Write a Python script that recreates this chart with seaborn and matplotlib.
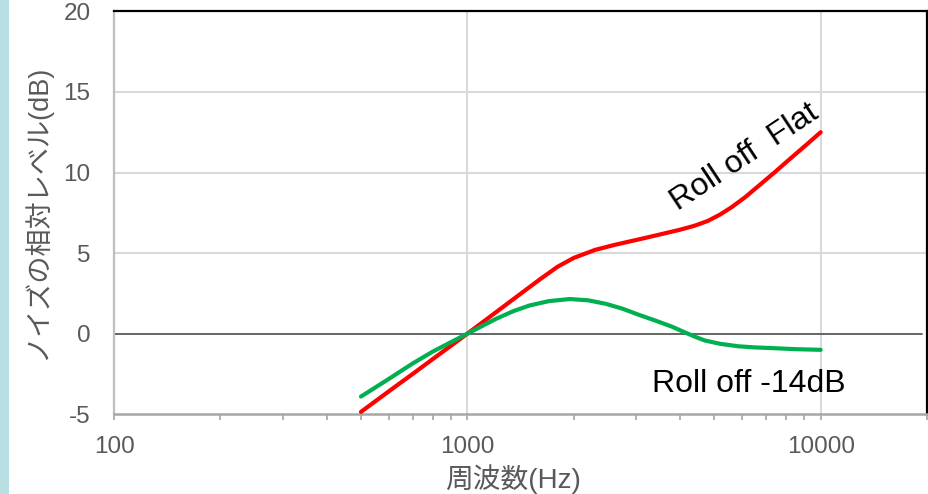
import matplotlib
matplotlib.use("Agg")
import matplotlib.pyplot as plt
from matplotlib.patches import Rectangle
from matplotlib.ticker import FixedLocator, LogLocator, NullFormatter
import numpy as np
import pandas as pd
import seaborn as sns

# Relative noise level vs frequency for two roll-off settings
freq_flat = [500, 600, 700, 800, 900, 1000, 1200, 1400, 1600, 1800, 2000, 2300,
             2600, 2850, 3200, 3500, 4000, 4400, 4800, 5200, 5600, 6100, 6700,
             7400, 8000, 8500, 9200, 10000]
level_flat = [-4.85, -3.57, -2.5, -1.56, -0.74, 0.0, 1.3, 2.4, 3.35, 4.15, 4.7, 5.2,
              5.5, 5.7, 5.95, 6.15, 6.45, 6.7, 7.0, 7.4, 7.85, 8.45, 9.2,
              10.0, 10.65, 11.15, 11.8, 12.5]

freq_14db = [500, 600, 700, 800, 900, 1000, 1200, 1350, 1500, 1700, 1950, 2200,
             2470, 2750, 3050, 3400, 3780, 4140, 4400, 4700, 5200, 5840, 6500,
             7230, 8500, 10000]
level_14db = [-3.9, -2.8, -1.85, -1.1, -0.52, 0.0, 0.9, 1.4, 1.75, 2.02, 2.15, 2.07,
              1.85, 1.55, 1.18, 0.82, 0.45, 0.07, -0.18, -0.42, -0.63, -0.78, -0.85,
              -0.89, -0.96, -1.0]

series_names = ["Roll off  Flat", "Roll off -14dB"]
series_colors = ["#ff0000", "#00b050"]

x_ticks = [100, 1000, 10000]
y_ticks = [-5, 0, 5, 10, 15, 20]
x_label = "周波数(Hz)"
y_label = "ノイズの相対レベル(dB)"

df = pd.concat([
    pd.DataFrame({"freq": freq_flat, "level": level_flat, "series": series_names[0]}),
    pd.DataFrame({"freq": freq_14db, "level": level_14db, "series": series_names[1]}),
], ignore_index=True)

sns.set_theme(style="white")
plt.rcParams["font.family"] = ["Liberation Sans", "Noto Sans CJK JP", "DejaVu Sans"]

fig = plt.figure(figsize=(9.29, 4.94), dpi=100)
ax = fig.add_axes([114 / 929, 1 - 414.3 / 494, 813 / 929, 403 / 494])

# left-hand colour strip
fig.add_artist(Rectangle((0, 0), 9 / 929, 1, transform=fig.transFigure,
                         facecolor="#b8e0e4", edgecolor="none", zorder=0))

ax.set_xscale("log")
ax.set_xlim(100, 20000)
ax.set_ylim(-5, 20)

# grid
ax.xaxis.set_major_locator(FixedLocator(x_ticks))
ax.xaxis.set_minor_locator(LogLocator(base=10, subs=np.arange(2, 10)))
ax.xaxis.set_minor_formatter(NullFormatter())
ax.set_xticklabels([str(t) for t in x_ticks])
ax.set_yticks(y_ticks)
ax.set_yticklabels([str(t) for t in y_ticks])
ax.grid(False)
for t in x_ticks[1:]:
    ax.axvline(t, color="#d9d9d9", lw=1.5, zorder=1)
for t in y_ticks[2:-1]:
    ax.axhline(t, color="#d9d9d9", lw=1.5, zorder=1)
ax.axhline(0, xmin=0, xmax=0.994, color="#595959", lw=1.3, zorder=2)

sns.lineplot(data=df, x="freq", y="level", hue="series",
             palette=dict(zip(series_names, series_colors)),
             hue_order=series_names, estimator=None, sort=True,
             lw=3, legend=False, ax=ax, zorder=3)
for line in ax.get_lines()[-2:]:
    line.set_solid_capstyle("round")
    line.set_solid_joinstyle("round")

# spines
for side in ["top", "right"]:
    ax.spines[side].set_color("black")
    ax.spines[side].set_linewidth(1.6)
ax.spines["left"].set_color("#bfbfbf")
ax.spines["left"].set_linewidth(1.6)
ax.spines["bottom"].set_color("#a6a6a6")
ax.spines["bottom"].set_linewidth(1.8)

ax.tick_params(axis="x", which="both", direction="out", length=4.5, width=1.2,
               color="#a6a6a6", bottom=True, pad=11, labelsize=17.5,
               labelcolor="#595959")
ax.tick_params(axis="y", which="both", length=0, pad=17, labelsize=17.5,
               labelcolor="#595959")

ax.set_xlabel(x_label, fontsize=20, color="#595959")
ax.xaxis.set_label_coords(0.491, -0.16)
ax.xaxis.label.set_va("center")
ax.set_ylabel(y_label, fontsize=19.5, color="#595959")
ax.yaxis.set_label_coords(-0.0953, 0.5)
ax.yaxis.label.set_va("center")

# series labels
ax.text(6282, 10.53, series_names[0], fontsize=23, color="black",
        rotation=33.5, rotation_mode="anchor", ha="center", va="baseline",
        zorder=4)
ax.text(3342, -3.64, series_names[1], fontsize=23, color="black",
        ha="left", va="baseline", zorder=4)

fig.savefig("out.png", dpi=100)
